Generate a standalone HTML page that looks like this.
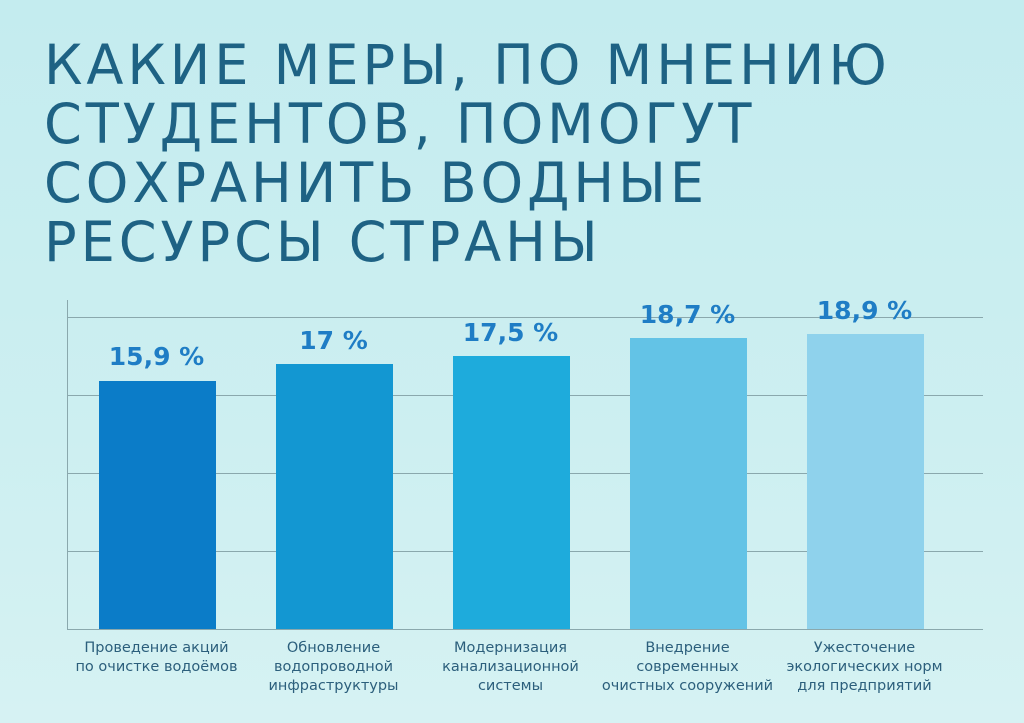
<!DOCTYPE html>
<html><head><meta charset="utf-8"><style>
body{margin:0;width:1024px;height:723px;overflow:hidden;background:linear-gradient(180deg,#c4ecef 0%,#cdeff1 60%,#d6f2f3 100%);font-family:"Liberation Sans","DejaVu Sans",sans-serif;position:relative}
.t{position:absolute;left:44px;top:36px;color:#1e6284;font-size:55px;line-height:59px;letter-spacing:4px;font-family:"DejaVu Sans","Liberation Sans",sans-serif;font-weight:normal;transform:scaleX(0.985);transform-origin:left}
.g{position:absolute;left:68px;width:915px;height:1px;background:#8aa8ad}
.bar{position:absolute;width:117px;bottom:94px}
.v{position:absolute;width:177px;text-align:center;color:#1f7dc5;font-weight:bold;font-size:25px;font-family:"DejaVu Sans",sans-serif}
.c{position:absolute;top:639px;width:177px;text-align:center;color:#2c5f7c;font-size:14.5px;line-height:19px;font-family:"DejaVu Sans",sans-serif}
</style></head><body>
<div class="t">КАКИЕ МЕРЫ, ПО МНЕНИЮ<br>СТУДЕНТОВ, ПОМОГУТ<br>СОХРАНИТЬ ВОДНЫЕ<br>РЕСУРСЫ СТРАНЫ</div>
<div style="position:absolute;left:67px;top:300px;width:1px;height:330px;background:#8aa8ad"></div>
<div class="g" style="top:317px"></div><div class="g" style="top:395px"></div><div class="g" style="top:473px"></div><div class="g" style="top:551px"></div><div class="g" style="top:629px"></div>
<div class="bar" style="left:99px;top:381px;height:248px;background:#0b7cc8"></div>
<div class="bar" style="left:276px;top:364px;height:265px;background:#1397d2"></div>
<div class="bar" style="left:453px;top:356px;height:273px;background:#1eabdc"></div>
<div class="bar" style="left:630px;top:338px;height:291px;background:#63c3e6"></div>
<div class="bar" style="left:807px;top:334px;height:295px;background:#8fd2ec"></div>
<div class="v" style="left:68px;top:342px">15,9 %</div>
<div class="v" style="left:245px;top:326px">17 %</div>
<div class="v" style="left:422px;top:318px">17,5 %</div>
<div class="v" style="left:599px;top:300px">18,7 %</div>
<div class="v" style="left:776px;top:296px">18,9 %</div>
<div class="c" style="left:68px">Проведение акций<br>по очистке водоёмов</div>
<div class="c" style="left:245px">Обновление<br>водопроводной<br>инфраструктуры</div>
<div class="c" style="left:422px">Модернизация<br>канализационной<br>системы</div>
<div class="c" style="left:599px">Внедрение<br>современных<br>очистных сооружений</div>
<div class="c" style="left:776px">Ужесточение<br>экологических норм<br>для предприятий</div>
</body></html>
